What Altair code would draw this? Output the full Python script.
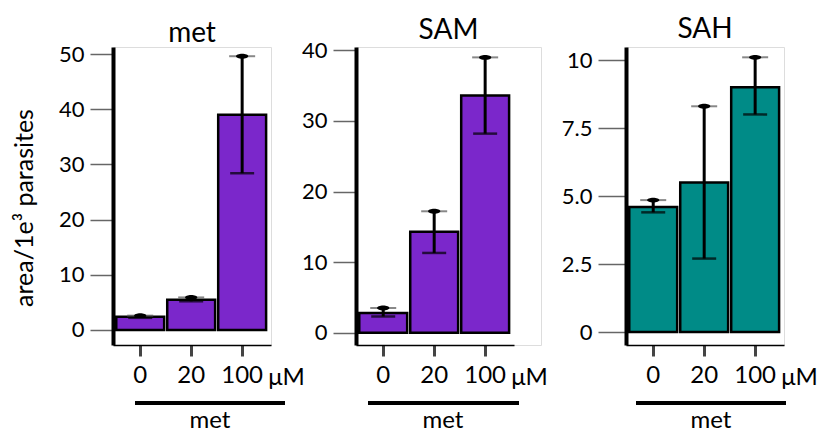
import altair as alt
import pandas as pd

conc = ["0", "20", "100"]

met_mean = [2.4, 5.5, 39.0]
met_lo = [2.2, 5.2, 28.4]
met_hi = [2.6, 5.9, 49.6]

sam_mean = [2.8, 14.3, 33.6]
sam_lo = [2.3, 11.3, 28.2]
sam_hi = [3.5, 17.2, 39.0]

sah_mean = [4.6, 5.5, 9.0]
sah_lo = [4.4, 2.7, 8.0]
sah_hi = [4.85, 8.3, 10.1]

PURPLE = "#7B27CB"
TEAL = "#008B87"
FONT = "Lato"
H = 298
PW = 158
ELLIPSE = "M-1,0 A1,0.4 0 1,0 1,0 A1,0.4 0 1,0 -1,0 Z"


def panel(title, mean, lo, hi, color, domain, ticks, width, tick_len,
          bracket, met_x, title_offset, label_expr=None, ytitle=False):
    df = pd.DataFrame({"conc": conc, "mean": mean, "lo": lo, "hi": hi})
    xscale = alt.Scale(domain=conc, paddingInner=0.06, paddingOuter=0.08,
                       align=0.4, range=[0, PW])
    xaxis = alt.Axis(title=None, domainColor="black", domainWidth=1.5,
                     tickColor="#444", tickWidth=3, tickSize=11,
                     labelFontSize=24, labelPadding=7, labelAngle=0,
                     labelColor="black", labelFont=FONT)
    yaxis_kw = dict(title=None, values=ticks, domainColor="black",
                    domainWidth=4, tickColor="#666", tickWidth=1.5,
                    tickSize=tick_len, labelFontSize=22, labelPadding=6,
                    labelColor="black", labelFont=FONT, grid=False)
    if label_expr:
        yaxis_kw["labelExpr"] = label_expr
    yaxis = alt.Axis(**yaxis_kw)
    x = alt.X("conc:N", sort=conc, scale=xscale, axis=xaxis)
    base = alt.Chart(df)
    bars = base.mark_bar(color=color, stroke="black", strokeWidth=2.5).encode(
        x=x,
        y=alt.Y("mean:Q", scale=alt.Scale(domain=domain, nice=False, zero=False),
                axis=yaxis),
        y2=alt.datum(0),
    )
    err = base.mark_rule(color="black", strokeWidth=3).encode(
        x=x, y="lo:Q", y2="hi:Q")
    lowcap = base.mark_tick(color="black", size=24, thickness=2.5,
                            orient="horizontal").encode(x=x, y="lo:Q")
    topcap = base.mark_tick(color="#555", size=26, thickness=2,
                            orient="horizontal").encode(x=x, y="hi:Q")
    blob = base.mark_point(shape=ELLIPSE, filled=True, color="black",
                           size=150, opacity=1).encode(x=x, y="hi:Q")
    unit = base.transform_filter(alt.datum.conc == "100").mark_text(
        align="left", baseline="middle", fontSize=24, font=FONT,
        color="black", dx=26).encode(x=x, y=alt.value(H + 33),
                                     text=alt.value("μM"))
    brk = base.transform_filter(alt.datum.conc == "0").mark_rule(
        color="black", strokeWidth=4).encode(
        x=alt.value(bracket[0]), x2=alt.value(bracket[1]), y=alt.value(H + 58))
    mettxt = base.transform_filter(alt.datum.conc == "0").mark_text(
        align="center", baseline="middle", fontSize=24, font=FONT,
        color="black").encode(x=alt.value(met_x), y=alt.value(H + 76),
                              text=alt.value("met"))
    layers = [bars, err, lowcap, topcap, blob, unit, brk, mettxt]
    if ytitle:
        yt = base.transform_filter(alt.datum.conc == "0").mark_text(
            angle=270, align="center", baseline="middle", fontSize=25,
            font=FONT, color="black").encode(
            x=alt.value(-88), y=alt.value(161),
            text=alt.value("area/1e³ parasites"))
        layers.append(yt)
    return alt.layer(*layers).properties(
        width=width, height=H,
        title=alt.TitleParams(title, fontSize=28, fontWeight="normal",
                              font=FONT, color="black", anchor="middle",
                              offset=title_offset, frame="group"),
    )


p1 = panel("met", met_mean, met_lo, met_hi, PURPLE, [-2.72, 51.27],
           [0, 10, 20, 30, 40, 50], PW, 23, (22, 172), 97, -5, ytitle=True)
p2 = panel("SAM", sam_mean, sam_lo, sam_hi, PURPLE, [-1.74, 40.47],
           [0, 10, 20, 30, 40], PW + 27, 23, (12, 163), 87, -6)
p3 = panel("SAH", sah_mean, sah_lo, sah_hi, TEAL, [-0.478, 10.48],
           [0, 2.5, 5, 7.5, 10], PW, 28, (10, 160), 85, 3,
           label_expr="datum.value == 0 ? '0' : datum.value == 10 ? '10' : format(datum.value, '.1f')")

chart = alt.hconcat(p1, p2, p3, spacing=85, bounds="flush").resolve_scale(
    x="independent", y="independent"
).configure_view(stroke=None).configure(font=FONT).properties(
    padding={"left": 4, "top": 7, "right": 5, "bottom": 3}
)

chart.save("out.html", embed_options={"renderer": "svg", "actions": False})
